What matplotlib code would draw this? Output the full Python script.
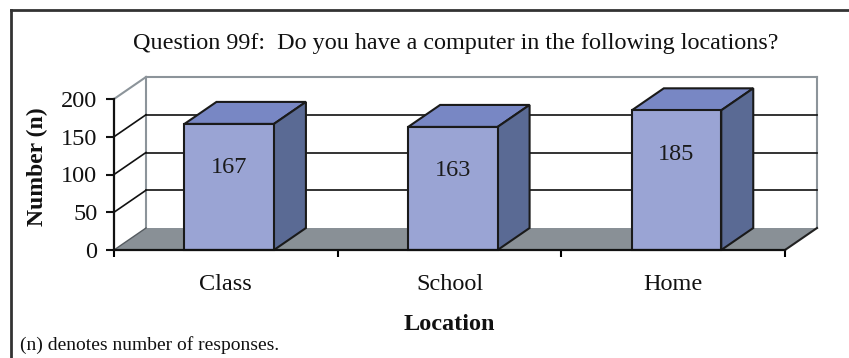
import matplotlib.pyplot as plt
from matplotlib.patches import Polygon
from matplotlib.lines import Line2D

plt.rcParams['font.family'] = ['Liberation Serif', 'DejaVu Serif']

# survey responses per location
locations = ['Class', 'School', 'Home']
counts = [167, 163, 185]
yticks = [0, 50, 100, 150, 200]

W, H = 849, 358
fig = plt.figure(figsize=(W / 100, H / 100), dpi=100)

# front plane of the pseudo-3d box, in figure pixels
x0, x1 = 114, 785
ytop, ybot = 99, 250
ax = fig.add_axes([x0 / W, (H - ybot) / H, (x1 - x0) / W, (ybot - ytop) / H])
ax.set_xlim(0, len(locations))
ax.set_ylim(0, 200)
ax.patch.set_visible(False)

# depth offset of the back wall in data units
dx = 32 / (x1 - x0) * len(locations)
dy = 22 / (ybot - ytop) * 200
nx = len(locations)

wall_grey = '#8c949a'
floor_grey = '#899096'
front_col = '#9aa4d4'
top_col = '#7887c4'
side_col = '#5a6a94'

# floor
ax.add_patch(Polygon([(0, 0), (nx, 0), (nx + dx, dy), (dx, dy)], closed=True,
                     facecolor=floor_grey, edgecolor='none', clip_on=False, zorder=1))
ax.plot([0, dx], [0, dy], color='#555b60', lw=1, clip_on=False, zorder=2)
ax.plot([nx, nx + dx], [0, dy], color='#222222', lw=1.5, clip_on=False, zorder=2)

# back wall edges and gridlines
ax.plot([dx, dx], [dy, 200 + dy], color=wall_grey, lw=1.5, clip_on=False, zorder=1)
ax.plot([nx + dx, nx + dx], [dy, 200 + dy], color=wall_grey, lw=1.5, clip_on=False, zorder=1)
ax.plot([dx, nx + dx], [200 + dy, 200 + dy], color=wall_grey, lw=1.5, clip_on=False, zorder=1)
ax.plot([0, dx], [200, 200 + dy], color=wall_grey, lw=1.5, clip_on=False, zorder=1)
for v in yticks[1:-1]:
    ax.plot([dx, nx + dx], [v + dy, v + dy], color='#111111', lw=1.2, clip_on=False, zorder=1)
    ax.plot([0, dx], [v, v + dy], color='#111111', lw=1.2, clip_on=False, zorder=1)

# 3d columns
bw = 0.40
shift = 0.015
for i, (name, c) in enumerate(zip(locations, counts)):
    left = i + 0.5 - bw / 2 + shift
    right = left + bw
    ax.add_patch(Polygon([(left, 0), (right, 0), (right, c), (left, c)], closed=True,
                         facecolor=front_col, edgecolor='#1a1a1a', lw=1.5,
                         clip_on=False, zorder=4))
    ax.add_patch(Polygon([(left, c), (right, c), (right + dx, c + dy), (left + dx, c + dy)],
                         closed=True, facecolor=top_col, edgecolor='#1a1a1a', lw=1.5,
                         clip_on=False, zorder=3))
    ax.add_patch(Polygon([(right, 0), (right + dx, dy), (right + dx, c + dy), (right, c)],
                         closed=True, facecolor=side_col, edgecolor='#1a1a1a', lw=1.5,
                         clip_on=False, zorder=3))
    ax.text((left + right) / 2, c - 58, str(c), ha='center', va='center',
            fontsize=17.5, color='#1a1a1a', zorder=5)

# axes
for s in ['top', 'right']:
    ax.spines[s].set_visible(False)
for s in ['left', 'bottom']:
    ax.spines[s].set_linewidth(1.6)
    ax.spines[s].set_color('#111111')
    ax.spines[s].set_zorder(6)
ax.set_yticks(yticks)
ax.tick_params(axis='y', direction='out', length=6, width=1.5, pad=6,
               labelsize=17.5, colors='#111111')
ax.set_xticks(range(nx + 1))
ax.set_xticklabels([])
ax.set_xticks([i + 0.5 for i in range(nx)], minor=True)
ax.set_xticklabels(locations, minor=True)
ax.tick_params(axis='x', which='major', direction='out', length=5, width=1.5)
ax.tick_params(axis='x', which='minor', length=0, pad=17, labelsize=17.5,
               colors='#111111')

fig.text(456 / W, 1 - 44 / H,
         'Question 99f:  Do you have a computer in the following locations?',
         ha='center', va='center', fontsize=17.4, color='#111111')
fig.text(37 / W, 1 - 167 / H, 'Number (n)', rotation=90, ha='center', va='center',
         fontsize=17, fontweight='bold', color='#111111')
fig.text(449 / W, 1 - 325 / H, 'Location', ha='center', va='center',
         fontsize=17.5, fontweight='bold', color='#111111')
fig.text(20 / W, 1 - 345 / H, '(n) denotes number of responses.', ha='left',
         va='center', fontsize=14, color='#111111')

# outer frame, open at right and bottom
fig.add_artist(Line2D([11 / W, 11 / W], [0, 1 - 10 / H], color='#333333', lw=2))
fig.add_artist(Line2D([11 / W, 1], [1 - 10 / H, 1 - 10 / H], color='#333333', lw=2))

fig.savefig('out.png', dpi=100)
